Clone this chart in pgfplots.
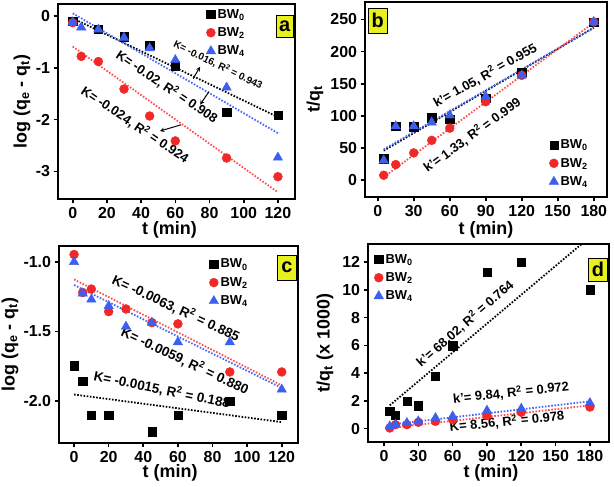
\documentclass[border=0pt]{standalone}
\usepackage{fontspec}
\setmainfont{Liberation Sans}
\usepackage{pgfplots}
\pgfplotsset{compat=1.18}
\definecolor{myred}{RGB}{240,40,40}
\definecolor{myblue}{RGB}{60,95,240}
\definecolor{lred}{RGB}{255,80,80}
\definecolor{lblue}{RGB}{70,105,250}
\definecolor{ylw}{RGB}{232,240,30}
\pgfplotsset{
 base/.style={
  scale only axis, anchor=south west,
  axis line style={line width=1.8pt, black},
  tick align=outside, xtick pos=bottom, ytick pos=left,
  major tick length=4.5pt, every tick/.style={line width=1.6pt, black},
  tick label style={font=\fontsize{16}{16}\selectfont},
  label style={font=\fontsize{18}{18}\selectfont},
  /pgf/number format/assume math mode=true,
  legend style={draw=none, fill=none, font=\fontsize{13}{13}\selectfont, anchor=north west, row sep=4pt, inner sep=1pt},
  legend cell align=left,
 },
 sq/.style={only marks, mark=square*, mark size=4.2pt, black, mark options={fill=black}},
 ci/.style={only marks, mark=*, mark size=4.5pt, myred, mark options={fill=myred}},
 tr/.style={only marks, mark=triangle*, mark size=5.5pt, myblue, mark options={fill=myblue}},
 fit/.style={no marks, dash pattern=on 1.6pt off 1.6pt, line width=1.8pt, forget plot},
}
\tikzset{lbl/.style={fill=ylw, draw=black, line width=0.8pt, minimum width=17bp, minimum height=22bp, inner sep=0pt, font=\fontsize{20}{20}\selectfont}}
\begin{document}
\bfseries
\begin{tikzpicture}
\useasboundingbox (0,0) rectangle (614bp,487bp);
% ---------------- a ----------------
\begin{axis}[base, at={(58bp,288bp)}, width=237bp, height=195bp,
 xmin=-8.6, xmax=130, ymin=-3.53, ymax=0.23,
 xtick={0,20,...,120}, ytick={-3,-2,-1,0},
 xlabel={t (min)}, ylabel={log (q\textsubscript{e} - q\textsubscript{t})},
 xlabel style={at={(axis description cs:0.47,-0.159)}, anchor=center},
 ylabel style={at={(axis description cs:-0.152,0.5)}, anchor=center},
 legend style={at={(rel axis cs:0.62,0.99)}}]
\addplot[fit, black] coordinates {(0,-0.045) (120,-1.95)};
\addplot[fit, lblue] coordinates {(0,0.05) (120,-2.26)};
\addplot[fit, lred] coordinates {(0,-0.59) (120,-3.40)};
\addplot[sq] coordinates {(0,-0.1) (15,-0.25) (30,-0.4) (45,-0.56) (60,-0.96) (90,-1.86) (120,-1.92)};
\addlegendentry{BW\textsubscript{0}}
\addplot[ci] coordinates {(0,-0.13) (5,-0.78) (15,-0.88) (30,-1.41) (45,-1.93) (60,-2.41) (90,-2.74) (120,-3.10)};
\addlegendentry{BW\textsubscript{2}}
\addplot[tr] coordinates {(0,-0.12) (5,-0.22) (15,-0.26) (30,-0.42) (45,-0.62) (60,-0.85) (90,-1.38) (120,-2.73)};
\addlegendentry{BW\textsubscript{4}}
\node[rotate=-26, font=\fontsize{10}{10}\selectfont] at (axis cs:85,-0.944) {K= -0.016, R\textsuperscript{2} = 0.943};
\node[rotate=-34, font=\fontsize{13}{13}\selectfont] at (axis cs:55.1,-1.37) {K= -0.02, R\textsuperscript{2} = 0.908};
\node[rotate=-34, font=\fontsize{13}{13}\selectfont] at (axis cs:36.4,-2.10) {K= -0.024, R\textsuperscript{2} = 0.924};
\draw[-stealth, line width=1pt] (axis cs:70.4,-1.21) -- (axis cs:74.5,-0.98);
\draw[-stealth, line width=1pt] (axis cs:79.7,-1.46) -- (axis cs:74.5,-1.71);
\draw[-stealth, line width=1pt] (axis cs:63.3,-2.10) -- (axis cs:51,-2.22);
\node[lbl] at (rel axis cs:0.956,0.887) {a};
\end{axis}
% ---------------- b ----------------
\begin{axis}[base, at={(365bp,290bp)}, width=242bp, height=195bp,
 xmin=-10.6, xmax=191, ymin=-26, ymax=277,
 xtick={0,30,...,180}, ytick={0,50,...,250},
 xlabel={t (min)}, ylabel={t/q\textsubscript{t}},
 xlabel style={at={(axis description cs:0.5,-0.169)}, anchor=center},
 ylabel style={at={(axis description cs:-0.207,0.5)}, anchor=center},
 legend style={at={(rel axis cs:0.756,0.31)}}]
\addplot[fit, black] coordinates {(5,46) (180,237)};
\addplot[fit, lblue] coordinates {(5,48) (180,237)};
\addplot[fit, lred] coordinates {(5,5) (180,245)};
\addplot[sq] coordinates {(5,33.7) (15,84) (30,83) (45,97) (60,95) (90,128) (120,168) (180,246)};
\addlegendentry{BW\textsubscript{0}}
\addplot[ci] coordinates {(5,7.8) (15,24.4) (30,42.5) (45,62) (60,81) (90,122) (120,163) (180,246)};
\addlegendentry{BW\textsubscript{2}}
\addplot[tr] coordinates {(5,31) (15,84) (30,84) (45,90) (60,101) (90,130) (120,163) (180,246)};
\addlegendentry{BW\textsubscript{4}}
\node[rotate=29.5, font=\fontsize{13}{13}\selectfont] at (axis cs:89.4,163) {k'= 1.05, R\textsuperscript{2} = 0.955};
\node[rotate=36, font=\fontsize{13}{13}\selectfont] at (axis cs:78.6,70) {k'= 1.33, R\textsuperscript{2} = 0.999};
\node[lbl, minimum width=19bp, minimum height=25bp] at (rel axis cs:0.052,0.905) {b};
\end{axis}
% ---------------- c ----------------
\begin{axis}[base, at={(59bp,44bp)}, width=239bp, height=197bp,
 xmin=-8.7, xmax=129.4, ymin=-2.30, ymax=-0.886,
 xtick={0,20,...,120}, ytick={-2.0,-1.5,-1.0},
 yticklabel style={/pgf/number format/.cd, fixed, fixed zerofill, precision=1},
 xlabel={t (min)}, ylabel={log (q\textsubscript{e} - q\textsubscript{t})},
 xlabel style={at={(axis description cs:0.465,-0.152)}, anchor=center},
 ylabel style={at={(axis description cs:-0.205,0.5)}, anchor=center},
 legend style={at={(rel axis cs:0.623,0.95)}}]
\addplot[fit, black] coordinates {(0,-1.952) (120,-2.15)};
\addplot[fit, lred] coordinates {(0,-1.126) (120,-1.886)};
\addplot[fit, lblue] coordinates {(0,-1.166) (120,-1.905)};
\addplot[sq] coordinates {(0,-1.745) (5,-1.857) (10,-2.1) (20,-2.1) (45,-2.22) (60,-2.1) (90,-2.0) (120,-2.1)};
\addlegendentry{BW\textsubscript{0}}
\addplot[ci] coordinates {(0,-0.947) (5,-1.22) (10,-1.195) (20,-1.357) (30,-1.338) (45,-1.436) (60,-1.445) (90,-1.79) (120,-1.79)};
\addlegendentry{BW\textsubscript{2}}
\addplot[tr] coordinates {(0,-1.0) (5,-1.226) (10,-1.27) (20,-1.316) (30,-1.464) (45,-1.436) (60,-1.576) (90,-1.576) (120,-1.916)};
\addlegendentry{BW\textsubscript{4}}
\node[rotate=-25, font=\fontsize{13.5}{13.5}\selectfont] at (axis cs:58.9,-1.331) {K= -0.0063, R\textsuperscript{2} = 0.885};
\node[rotate=-25, font=\fontsize{13.5}{13.5}\selectfont] at (axis cs:64.1,-1.71) {K= -0.0059, R\textsuperscript{2} = 0.880};
\node[rotate=-11.6, font=\fontsize{13.5}{13.5}\selectfont] at (axis cs:50.8,-1.916) {K= -0.0015, R\textsuperscript{2} = 0.188};
\node[lbl, minimum width=19bp, minimum height=25bp] at (rel axis cs:0.954,0.891) {c};
\end{axis}
% ---------------- d ----------------
\begin{axis}[base, at={(368bp,45bp)}, width=241bp, height=198bp,
 xmin=-14, xmax=196.7, ymin=-0.96, ymax=13.3,
 xtick={0,30,...,180}, ytick={0,2,...,12},
 xlabel={t (min)}, ylabel={t/q\textsubscript{t} (x 1000)},
 xlabel style={at={(axis description cs:0.51,-0.157)}, anchor=center},
 ylabel style={at={(axis description cs:-0.178,0.5)}, anchor=center},
 legend style={at={(rel axis cs:0.02,0.965)}}]
\addplot[fit, black] coordinates {(5,1.68) (180,13.8)};
\addplot[fit, lblue] coordinates {(5,0.29) (180,1.97)};
\addplot[fit, lred] coordinates {(5,0.05) (180,1.68)};
\addplot[sq] coordinates {(5,1.25) (10,0.96) (20,1.97) (30,1.66) (45,3.77) (60,5.98) (90,11.25) (120,12.0) (180,10.0)};
\addlegendentry{BW\textsubscript{0}}
\addplot[ci] coordinates {(5,0.05) (10,0.29) (20,0.29) (30,0.46) (45,0.53) (60,0.65) (90,0.94) (120,1.18) (180,1.56)};
\addlegendentry{BW\textsubscript{2}}
\addplot[tr] coordinates {(5,0.17) (10,0.29) (20,0.41) (30,0.53) (45,0.77) (60,0.89) (90,1.30) (120,1.44) (180,1.85)};
\addlegendentry{BW\textsubscript{4}}
\node[rotate=41, font=\fontsize{13}{13}\selectfont] at (axis cs:70.8,7.56) {k'= 68.02, R\textsuperscript{2} = 0.764};
\node[rotate=6.3, font=\fontsize{13}{13}\selectfont] at (axis cs:111,2.59) {k'= 9.84, R\textsuperscript{2} = 0.972};
\node[rotate=5.9, font=\fontsize{13}{13}\selectfont] at (axis cs:107.5,0.50) {K= 8.56, R\textsuperscript{2} = 0.978};
\node[lbl, minimum width=19bp, minimum height=23bp] at (rel axis cs:0.954,0.871) {d};
\end{axis}
\end{tikzpicture}
\end{document}
